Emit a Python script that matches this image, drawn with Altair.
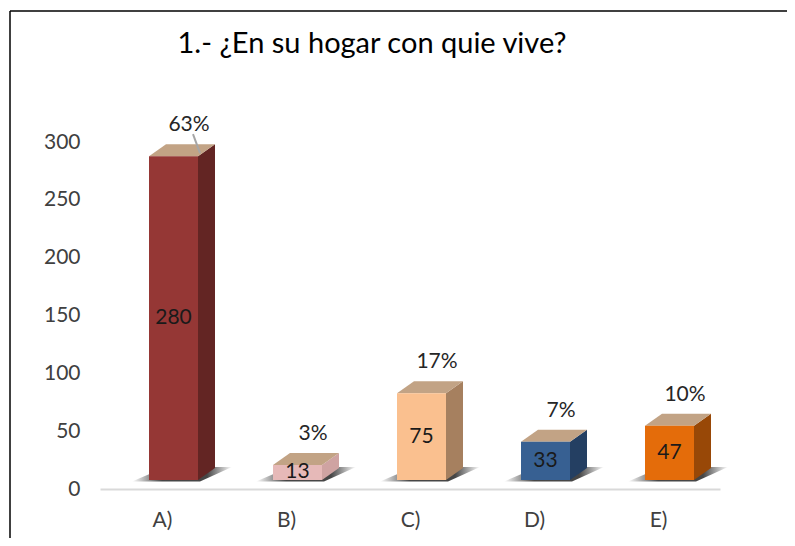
import json
import altair as alt
import pandas as pd

# ---- data ----
categories = ["A)", "B)", "C)", "D)", "E)"]
counts = [280, 13, 75, 33, 47]
percents = [63, 3, 17, 7, 10]
title_text = "1.- ¿En su hogar con quie vive?"
y_ticks = [0, 50, 100, 150, 200, 250, 300]
leader_cats = ["A)"]

# ---- styles ----
front_colors = ["#953735", "#E6B9B8", "#FAC08F", "#376092", "#E46C0A"]
side_colors = ["#632523", "#CFA3A2", "#A6805F", "#243F62", "#984807"]
top_color = "#C2A385"
FONT = "Lato"

W, H = 620, 347
Y_MAX = 300
N = len(categories)
KX = W / N          # px per x unit
KY = H / Y_MAX      # px per y unit
FL, FR = -13 / KX, 36 / KX
DX, DY = 17 / KX, 12 / KY
OFF = 9 / KY

base = pd.DataFrame({"cat": categories, "count": counts, "pct": percents})
base["xc"] = base.index + 0.5
base["xl"] = base["xc"] + FL
base["xr"] = base["xc"] + FR
base["y0"] = OFF
base["y1"] = base["count"] + OFF
base["ytop"] = base["y1"] + DY
base["ymid"] = (base["y0"] + base["y1"]) / 2
base["pct_label"] = base["pct"].astype(str) + "%"

side_rows, top_rows, shadow_rows = [], [], []
for _, r in base.iterrows():
    for k in (0, 1):
        side_rows.append({"cat": r["cat"], "x": r["xr"] + k * DX,
                          "ylo": r["y0"] + k * DY, "yhi": r["y1"] + k * DY})
        top_rows.append({"cat": r["cat"], "y": r["y1"] + k * DY,
                         "xa": r["xl"] + k * DX, "xb": r["xr"] + k * DX})
    shadow_rows.append({"cat": r["cat"], "y": r["y0"] - 1.5 / KY,
                        "xa": r["xl"] - 17 / KX, "xb": r["xr"] + 2 / KX})
    shadow_rows.append({"cat": r["cat"], "y": r["y0"] + DY + 1 / KY,
                        "xa": r["xl"] + DX, "xb": r["xr"] + DX + 17 / KX})
side_df = pd.DataFrame(side_rows)
top_df = pd.DataFrame(top_rows)
shadow_df = pd.DataFrame(shadow_rows)

lead = base[base["cat"].isin(leader_cats)].copy()
lead["lx1"] = lead["xc"] + 31 / KX
lead["lx2"] = lead["xc"] + 38 / KX
lead["ly1"] = lead["ytop"] + 10 / KY
lead["ly2"] = lead["ytop"] - 9 / KY

xscale = alt.Scale(domain=[0, N], nice=False, zero=False)
yscale = alt.Scale(domain=[0, Y_MAX], nice=False, zero=True)

x_axis = alt.Axis(
    values=[i + 0.5 for i in range(N)],
    labelExpr=json.dumps(categories) + "[floor(datum.value)]",
    domainColor="#D9D9D9", domainWidth=2, ticks=False, tickSize=0, grid=False,
    labelPadding=20, labelFont=FONT, labelFontSize=21, labelColor="#404040",
    title=None,
)
y_axis = alt.Axis(
    values=y_ticks, domain=False, ticks=False, tickSize=0, grid=False,
    labelPadding=20, labelFont=FONT, labelFontSize=21, labelColor="#404040",
    title=None,
)


def X(field):
    return alt.X(field, scale=xscale, axis=x_axis, stack=None)


def Y(field):
    return alt.Y(field, scale=yscale, axis=y_axis, stack=None)


shadow = alt.Chart(shadow_df).mark_area(
    orient="horizontal",
    color=alt.Gradient(
        gradient="linear", x1=0, x2=1, y1=0, y2=0,
        stops=[alt.GradientStop(color="rgba(50,50,50,0)", offset=0),
               alt.GradientStop(color="rgba(50,50,50,0.9)", offset=0.3),
               alt.GradientStop(color="rgba(50,50,50,0.9)", offset=0.75),
               alt.GradientStop(color="rgba(50,50,50,0)", offset=1)]),
).encode(y=Y("y:Q"), x=X("xa:Q"), x2="xb:Q", detail="cat:N")

side = alt.Chart(side_df).mark_area(orient="vertical").encode(
    x=X("x:Q"), y=Y("ylo:Q"), y2="yhi:Q",
    color=alt.Color("cat:N", scale=alt.Scale(domain=categories, range=side_colors), legend=None),
    detail="cat:N",
)

top = alt.Chart(top_df).mark_area(orient="horizontal", color=top_color).encode(
    y=Y("y:Q"), x=X("xa:Q"), x2="xb:Q", detail="cat:N",
)

front = alt.Chart(base).mark_rect().encode(
    x=X("xl:Q"), x2="xr:Q", y=Y("y0:Q"), y2="y1:Q",
    color=alt.Color("cat:N", scale=alt.Scale(domain=categories, range=front_colors), legend=None),
)

values = alt.Chart(base).mark_text(
    font=FONT, fontSize=21, color="#1a1a1a", baseline="middle", align="center", dx=11.5
).encode(x=X("xc:Q"), y=Y("ymid:Q"), text="count:Q")

pct_text = alt.Chart(base).mark_text(
    font=FONT, fontSize=21, color="#262626", baseline="middle", align="center", dx=27, dy=-19
).encode(x=X("xc:Q"), y=Y("ytop:Q"), text="pct_label:N")

leader = alt.Chart(lead).mark_rule(color="#A6A6A6", strokeWidth=2).encode(
    x=X("lx1:Q"), x2="lx2:Q", y=Y("ly1:Q"), y2="ly2:Q",
)

title = alt.Chart(pd.DataFrame({"t": [title_text]})).mark_text(
    font=FONT, fontSize=29, color="#000000", baseline="middle", align="center"
).encode(text="t:N", x=alt.value(272), y=alt.value(-98))

border_left = alt.Chart(pd.DataFrame({"a": [0]})).mark_rule(color="#000000", strokeWidth=1.5).encode(
    x=alt.value(-90), y=alt.value(-131), y2=alt.value(H + 60))
border_top = alt.Chart(pd.DataFrame({"a": [0]})).mark_rule(color="#000000", strokeWidth=1.5).encode(
    y=alt.value(-131), x=alt.value(-90), x2=alt.value(W + 80))

chart = alt.layer(
    shadow, side, top, front, values, pct_text, leader, title, border_left, border_top
).resolve_scale(color="independent").properties(
    width=W, height=H,
    autosize=alt.AutoSizeParams(type="none"),
    padding={"left": 92, "top": 134, "right": 67, "bottom": 49},
    background="#FFFFFF",
).configure_view(stroke=None)

chart.save("out.html", embed_options={"renderer": "svg", "actions": False})
